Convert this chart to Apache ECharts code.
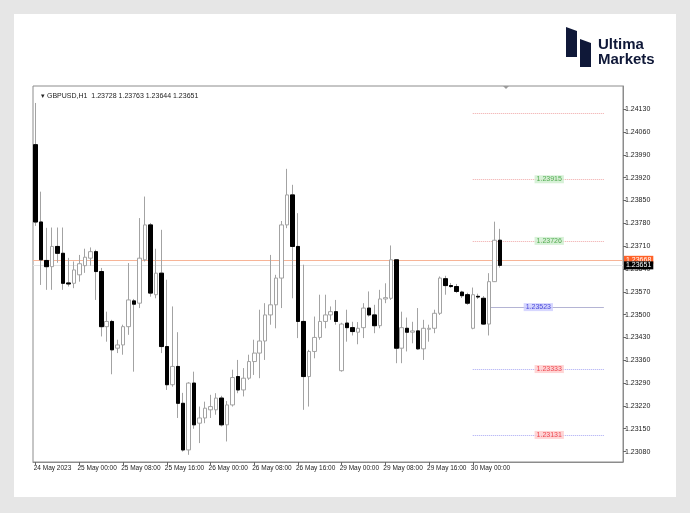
<!DOCTYPE html>
<html><head><meta charset="utf-8">
<script src="https://cdn.jsdelivr.net/npm/echarts@6/dist/echarts.min.js"></script>
<style>
html,body{margin:0;padding:0;width:690px;height:513px;background:#e6e6e6;overflow:hidden}
#card{position:absolute;left:14px;top:14px;width:662px;height:483px;background:#fff}
#chart{position:absolute;left:0;top:0;width:690px;height:513px}
</style></head><body>
<div id="card"></div><div id="chart"></div>
<script>
const symbol = 'GBPUSD,H1';
const opens  = [1.24021,1.23784,1.23666,1.23647,1.23709,1.23688,1.23597,1.23596,1.23622,1.23650,1.23673,1.23693,1.23632,1.23463,1.23479,1.23397,1.23407,1.23463,1.23542,1.23535,1.23668,1.23775,1.23561,1.23627,1.23402,1.23285,1.23341,1.23228,1.23085,1.23290,1.23167,1.23183,1.23208,1.23208,1.23244,1.23162,1.23223,1.23310,1.23269,1.23305,1.23356,1.23382,1.23419,1.23499,1.23530,1.23612,1.23775,1.23867,1.23709,1.23479,1.23310,1.23387,1.23430,1.23479,1.23499,1.23509,1.23328,1.23474,1.23460,1.23446,1.23460,1.23520,1.23499,1.23466,1.23548,1.23550,1.23668,1.23397,1.23458,1.23446,1.23450,1.23395,1.23455,1.23458,1.23504,1.23610,1.23589,1.23586,1.23569,1.23561,1.23458,1.23556,1.23550,1.23471,1.23601,1.23728];
const highs  = [1.24149,1.23877,1.23766,1.23767,1.23767,1.23767,1.23674,1.23663,1.23683,1.23702,1.23706,1.23699,1.23643,1.23509,1.23484,1.23423,1.23469,1.23658,1.23548,1.23796,1.23862,1.23781,1.23702,1.23760,1.23607,1.23525,1.23446,1.23260,1.23293,1.23325,1.23218,1.23233,1.23254,1.23259,1.23251,1.23235,1.23331,1.23361,1.23336,1.23377,1.23423,1.23515,1.23535,1.23683,1.23622,1.23787,1.23947,1.23898,1.23811,1.23653,1.23392,1.23494,1.23561,1.23561,1.23525,1.23545,1.23475,1.23515,1.23478,1.23477,1.23535,1.23571,1.23530,1.23576,1.23596,1.23712,1.23668,1.23509,1.23491,1.23478,1.23520,1.23484,1.23469,1.23515,1.23617,1.23619,1.23597,1.23594,1.23573,1.23567,1.23583,1.23564,1.23557,1.23627,1.23785,1.23763];
const lows   = [1.23772,1.23591,1.23576,1.23576,1.23659,1.23576,1.23586,1.23581,1.23601,1.23628,1.23650,1.23545,1.23433,1.23417,1.23317,1.23382,1.23377,1.23438,1.23325,1.23520,1.23663,1.23555,1.23550,1.23382,1.23269,1.23279,1.23183,1.23080,1.23070,1.23150,1.23106,1.23167,1.23183,1.23193,1.23157,1.23111,1.23218,1.23259,1.23249,1.23300,1.23315,1.23305,1.23361,1.23469,1.23458,1.23520,1.23765,1.23550,1.23428,1.23208,1.23218,1.23366,1.23423,1.23458,1.23484,1.23469,1.23325,1.23417,1.23436,1.23409,1.23428,1.23494,1.23443,1.23458,1.23535,1.23545,1.23351,1.23351,1.23387,1.23412,1.23392,1.23361,1.23417,1.23443,1.23499,1.23561,1.23582,1.23566,1.23551,1.23530,1.23455,1.23548,1.23469,1.23436,1.23600,1.23644];
const closes = [1.23784,1.23668,1.23647,1.23709,1.23688,1.23596,1.23594,1.23637,1.23656,1.23676,1.23693,1.23632,1.23463,1.23479,1.23392,1.23407,1.23463,1.23545,1.23532,1.23673,1.23775,1.23566,1.23627,1.23402,1.23285,1.23341,1.23228,1.23085,1.23290,1.23162,1.23183,1.23213,1.23218,1.23244,1.23162,1.23223,1.23307,1.23269,1.23305,1.23356,1.23382,1.23419,1.23499,1.23530,1.23612,1.23775,1.23867,1.23709,1.23479,1.23310,1.23387,1.23430,1.23479,1.23499,1.23509,1.23479,1.23471,1.23460,1.23448,1.23458,1.23520,1.23499,1.23466,1.23548,1.23552,1.23668,1.23397,1.23460,1.23446,1.23450,1.23395,1.23458,1.23458,1.23504,1.23612,1.23589,1.23586,1.23571,1.23558,1.23535,1.23561,1.23554,1.23471,1.23601,1.23728,1.23651];
const yTicks = [1.23080,1.23150,1.23220,1.23290,1.23360,1.23430,1.23500,1.23570,1.23640,1.23710,1.23780,1.23850,1.23920,1.23990,1.24060,1.24130];
const pivotLevels = [1.24118,1.23915,1.23726,1.23523,1.23333,1.23131];
const pivotKinds  = ['R3','R2','R1','P','S1','S2'];
const bidPrice = 1.23668;
const lastPrice = 1.23651;
const futureSlots = 22;

const MONTHS=['Jan','Feb','Mar','Apr','May','Jun','Jul','Aug','Sep','Oct','Nov','Dec'];
const categories=[]; let t=Date.UTC(2023,4,24,16);
for(let i=0;i<opens.length+futureSlots;i++){
  categories.push(String(t));
  do { t+=3600e3; } while([0,6].includes(new Date(t).getUTCDay()));
}
const pad=n=>String(n).padStart(2,'0');
function xLabel(v,i){
  const d=new Date(+v);
  if(i===0) return d.getUTCDate()+' '+MONTHS[d.getUTCMonth()]+' '+d.getUTCFullYear();
  return d.getUTCDate()+' '+MONTHS[d.getUTCMonth()]+' '+pad(d.getUTCHours())+':00';
}
function showX(i,v){ return i<opens.length && new Date(+v).getUTCHours()%8===0; }

const ohlc = opens.map((o,i)=>[o,closes[i],lows[i],highs[i]]);
const bearBodies = opens.map((o,i)=> o>closes[i] ? [o,closes[i],closes[i],o] : '-');

const FONT='Liberation Sans, Arial, sans-serif';
const n=opens.length-1;
const header='\u25BE '+symbol+'  '+[opens[n],highs[n],lows[n],closes[n]].map(v=>v.toFixed(5)).join(' ');

const pivotStyle={
  R3:{line:'#f0a8a8',type:'dotted',label:null},
  R2:{line:'#f0a8a8',type:'dotted',label:['#2f9a2f','#cdeecd']},
  R1:{line:'#f0a8a8',type:'dotted',label:['#2f9a2f','#cdeecd']},
  P:{line:'#b4b4d4',type:'solid',label:['#2424d0','#cdcdff']},
  S1:{line:'#a8a8f4',type:'dotted',label:['#e8202a','#ffcaca']},
  S2:{line:'#a8a8f4',type:'dotted',label:['#e8202a','#ffcaca']}
};
const pivotLines = pivotLevels.map((lv,i)=>{
  const k=pivotKinds[i], s=pivotStyle[k];
  return [{coord:[k==='P'?83:80,lv],lineStyle:{color:s.line,type:s.type,width:1}},{coord:[104,lv]}];
});
const pivotLabelData = pivotLevels.map((lv,i)=>{
  const k=pivotKinds[i], s=pivotStyle[k];
  if(!s.label) return null;
  return {value:[k==='P'?92:94,lv],label:{show:true,position:'inside',formatter:lv.toFixed(5),color:s.label[0],backgroundColor:s.label[1],padding:[1,2,0,2],fontSize:7,fontFamily:FONT}};
}).filter(Boolean);

const chart=echarts.init(document.getElementById('chart'),null,{renderer:'canvas'});
chart.setOption({
  animation:false,
  backgroundColor:'transparent',
  title:{text:header,left:36,top:88,textStyle:{fontSize:7,fontWeight:'normal',color:'#222',fontFamily:FONT}},
  grid:{left:33,right:67,top:86,bottom:51,show:true,borderColor:'#8c8c8c',borderWidth:1,backgroundColor:'#fff'},
  xAxis:{type:'category',data:categories,boundaryGap:true,
    axisLine:{show:true,lineStyle:{color:'#8c8c8c'}},
    axisTick:{show:true,interval:showX,alignWithLabel:true,length:3,lineStyle:{color:'#666'}},
    axisLabel:{interval:showX,formatter:xLabel,align:'left',fontSize:6.5,color:'#222',margin:3,fontFamily:FONT,padding:[0,0,0,-2]},
    splitLine:{show:false}},
  yAxis:{type:'value',position:'right',min:1.23048,max:1.24201,
    axisLine:{show:true,lineStyle:{color:'#8c8c8c'}},
    axisTick:{show:true,length:3,customValues:yTicks,lineStyle:{color:'#666'}},
    axisLabel:{customValues:yTicks,formatter:v=>v.toFixed(5),fontSize:7,color:'#222',margin:2,fontFamily:FONT},
    splitLine:{show:false}},
  series:[
    {type:'scatter',name:'pivots',data:pivotLabelData,symbolSize:1,itemStyle:{color:'rgba(0,0,0,0)'},z:5,silent:true,
      markLine:{silent:true,symbol:['none','none'],animation:false,z:1,precision:5,
        label:{show:false},
        data:[
          ...pivotLines,
          {yAxis:bidPrice,lineStyle:{color:'#f7b497',type:'solid',width:1},
            label:{show:true,position:'end',distance:1,formatter:bidPrice.toFixed(5),color:'#fff',backgroundColor:'#ff6228',padding:[1,2,0,2],fontSize:7,fontFamily:FONT}},
          {yAxis:lastPrice,lineStyle:{color:'#e2e2e2',type:'solid',width:1},
            label:{show:true,position:'end',distance:1,formatter:lastPrice.toFixed(5),color:'#fff',backgroundColor:'#000',padding:[1,2,0,2],fontSize:7,fontFamily:FONT}}
        ]}},
    {type:'candlestick',name:symbol,data:ohlc,barWidth:4,z:3,
      itemStyle:{color:'#fff',color0:'#000',borderColor:'#a3a3a3',borderColor0:'#a3a3a3',borderWidth:1}},
    {type:'candlestick',name:'bear',data:bearBodies,barWidth:4,z:4,
      itemStyle:{color:'#000',color0:'#000',borderColor:'#000',borderColor0:'#000',borderWidth:1}}
  ],
  graphic:[
    {type:'polygon',shape:{points:[[503,86],[509,86],[506,89]]},style:{fill:'#9a9a9a'}},
    {type:'polygon',shape:{points:[[566,27],[577,31],[577,57],[566,57]]},style:{fill:'#0f1838'}},
    {type:'polygon',shape:{points:[[580,39],[591,43],[591,67],[580,67]]},style:{fill:'#0f1838'}},
    {type:'text',left:598,top:37,style:{text:'Ultima',fontSize:15,fontWeight:'bold',fill:'#0f1838',fontFamily:FONT}},
    {type:'text',left:598,top:52,style:{text:'Markets',fontSize:15,fontWeight:'bold',fill:'#0f1838',fontFamily:FONT}}
  ]
});
</script></body></html>
